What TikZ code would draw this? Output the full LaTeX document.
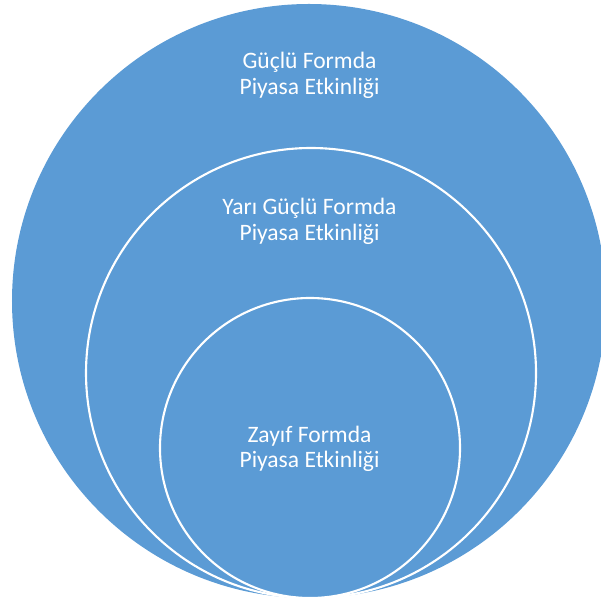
\documentclass[tikz,border=0pt]{standalone}
\usepackage{fontspec}
\setmainfont{Carlito}
\usepackage{tikz}
\definecolor{fillblue}{HTML}{5B9BD5}
\definecolor{ring}{HTML}{FFFFFF}
\tikzset{
  outer/.style={fill=fillblue, draw=none},
  inner/.style={fill=fillblue, draw=ring, line width=1.2pt},
  lab/.style={text=white, align=center, font=\fontsize{13.4}{14.4}\selectfont},
}

\begin{document}
\begin{tikzpicture}
  \useasboundingbox (0,0) rectangle (12.02,-12.02);
  \clip (0,0) rectangle (12.02,-12.02);
  \coordinate (C1) at (6.18,-6.02);
  \coordinate (C2) at (6.22,-7.46);
  \coordinate (C3) at (6.20,-8.96);

  \fill[outer] (C1) circle (5.94);
  \draw[inner] (C2) circle (4.50);
  \draw[inner] (C3) circle (3.00);

  \node[lab] (strong) at (6.19,-1.51) {Güçlü Formda\\Piyasa Etkinliği};
  \node[lab] (semi)   at (6.19,-4.43) {Yarı Güçlü Formda\\Piyasa Etkinliği};
  \node[lab] (weak)   at (6.19,-8.98) {Zayıf Formda\\Piyasa Etkinliği};
\end{tikzpicture}
\end{document}
